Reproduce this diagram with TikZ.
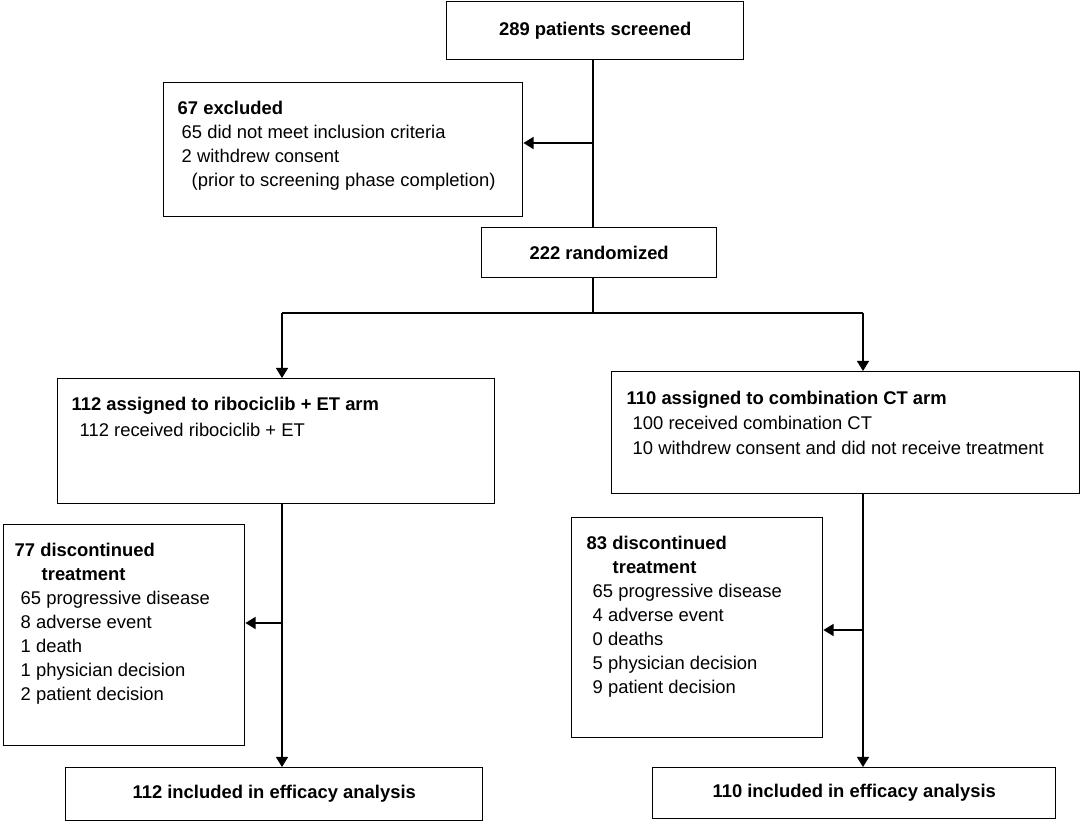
\documentclass[tikz,border=0pt]{standalone}
\usepackage{fontspec}
\setmainfont{Liberation Sans}
\usetikzlibrary{arrows.meta,positioning}
\newdimen\px \px=0.625pt
\newcommand{\flowtext}[3]{\parbox[t][#2\px][t]{#1\px}{#3}}

\begin{document}
\begin{tikzpicture}[x=0.625pt, y=-0.625pt,
  box/.style={draw, line width=0.9pt, inner sep=0pt, anchor=north west, font=\fontsize{11.5}{15}\selectfont\bfseries},
  listbox/.style={draw, line width=0.9pt, inner sep=0pt, anchor=north west, font=\fontsize{11.5}{15}\selectfont},
  link/.style={line width=0.9pt},
  arrow/.style={-{Triangle[length=6.3pt, width=7.5pt]}, line width=0.9pt}
]
  \useasboundingbox (0,0) rectangle (1080,821);

  \node[box, minimum width=297*\px, minimum height=58*\px] (scr) at (446,1) {289 patients screened};
  \node[listbox] (excl) at (163,82) {\flowtext{359}{134}{\vspace*{11.5pt}%
    \hspace*{14\px}\textbf{67 excluded}\\
    \hspace*{18\px}65 did not meet inclusion criteria\\
    \hspace*{18\px}2 withdrew consent\\
    \hspace*{28\px}(prior to screening phase completion)}};
  \node[box, minimum width=235*\px, minimum height=50*\px] (rand) at (481,227) {222 randomized};

  \node[listbox] (armL) at (57,378) {\flowtext{437}{125}{\vspace*{11.5pt}%
    \hspace*{14\px}\textbf{112 assigned to ribociclib + ET arm}\\[1.2pt]
    \hspace*{22\px}112 received ribociclib + ET}};
  \node[listbox] (armR) at (611,371) {\flowtext{468}{122}{\vspace*{12.1pt}%
    \hspace*{15\px}\textbf{110 assigned to combination CT arm}\\[0.6pt]
    \hspace*{21\px}100 received combination CT\\[0.6pt]
    \hspace*{21\px}10 withdrew consent and did not receive treatment}};

  \node[listbox] (discL) at (3,524) {\flowtext{241}{221}{\vspace*{11.5pt}%
    \hspace*{11\px}\textbf{77 discontinued}\\
    \hspace*{38\px}\textbf{treatment}\\
    \hspace*{17\px}65 progressive disease\\
    \hspace*{17\px}8 adverse event\\
    \hspace*{17\px}1 death\\
    \hspace*{17\px}1 physician decision\\
    \hspace*{17\px}2 patient decision}};
  \node[listbox] (discR) at (571,517) {\flowtext{251}{220}{\vspace*{11.5pt}%
    \hspace*{15\px}\textbf{83 discontinued}\\
    \hspace*{41\px}\textbf{treatment}\\
    \hspace*{21\px}65 progressive disease\\
    \hspace*{21\px}4 adverse event\\
    \hspace*{21\px}0 deaths\\
    \hspace*{21\px}5 physician decision\\
    \hspace*{21\px}9 patient decision}};

  \node[box, minimum width=417*\px, minimum height=53*\px] (effL) at (65,767) {112 included in efficacy analysis};
  \node[box, minimum width=403*\px, minimum height=51*\px] (effR) at (652,767) {110 included in efficacy analysis};

  \coordinate (exclfork) at (593,143);
  \coordinate (splitL) at (282,313);
  \coordinate (splitR) at (863,313);
  \coordinate (forkL) at (282,623);
  \coordinate (forkR) at (863,630);

  \draw[link] (exclfork |- scr.south) -- (exclfork |- rand.north);
  \draw[arrow] (exclfork) -- (exclfork -| excl.east);
  \draw[link] (exclfork |- rand.south) -- (exclfork |- splitL);
  \draw[link] (splitL) -- (splitR);
  \draw[arrow] (splitL) -- (splitL |- armL.north);
  \draw[arrow] (splitR) -- (splitR |- armR.north);
  \draw[arrow] (splitL |- armL.south) -- (splitL |- effL.north);
  \draw[arrow] (splitR |- armR.south) -- (splitR |- effR.north);
  \draw[arrow] (forkL) -- (forkL -| discL.east);
  \draw[arrow] (forkR) -- (forkR -| discR.east);
\end{tikzpicture}
\end{document}
